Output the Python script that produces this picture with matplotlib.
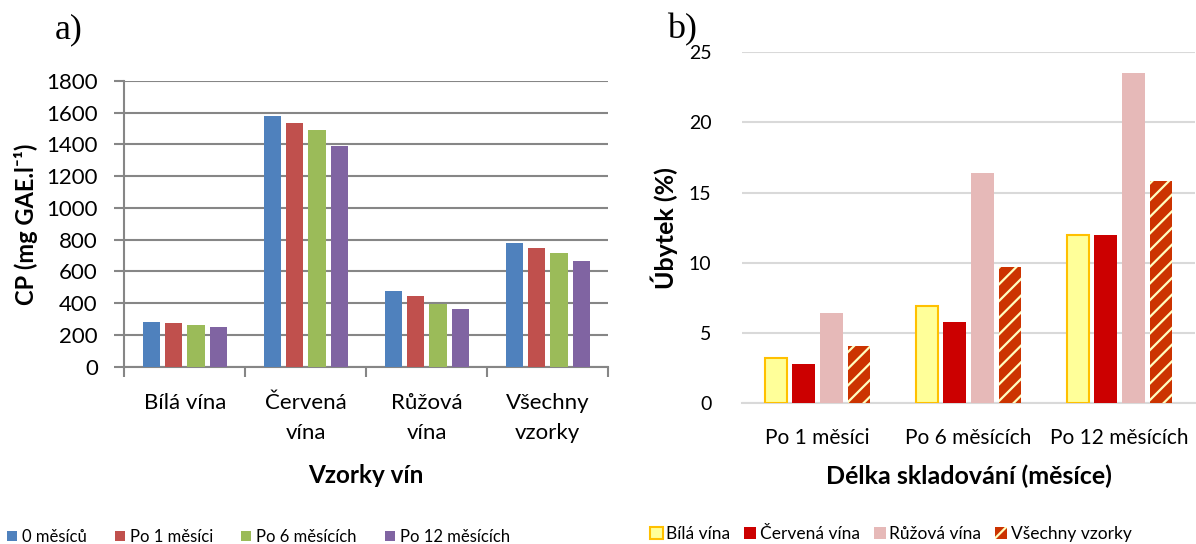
import matplotlib
matplotlib.use("Agg")
import matplotlib.pyplot as plt
import numpy as np

plt.rcParams['font.family'] = ['Lato', 'DejaVu Sans']
plt.rcParams['hatch.linewidth'] = 1.6

# --- data: a) total polyphenols (CP) ---
samples = ['Bílá vína', 'Červená\nvína', 'Růžová\nvína', 'Všechny\nvzorky']
storage = ['0 měsíců', 'Po 1 měsíci', 'Po 6 měsících', 'Po 12 měsících']
cp_0 = [283, 1580, 476, 780]
cp_1 = [273, 1538, 444, 751]
cp_6 = [262, 1490, 396, 717]
cp_12 = [250, 1393, 363, 667]
cp_colors = ['#4F81BD', '#C0504D', '#9BBB59', '#8064A2']

# --- data: b) loss in % ---
periods = ['Po 1 měsíci', 'Po 6 měsících', 'Po 12 měsících']
wine_types = ['Bílá vína', 'Červená vína', 'Růžová vína', 'Všechny vzorky']
loss_white = [3.2, 6.9, 12.0]
loss_red = [2.8, 5.8, 12.0]
loss_rose = [6.4, 16.4, 23.5]
loss_all = [4.1, 9.7, 15.8]

fig = plt.figure(figsize=(11.96, 5.44), dpi=100)

# ---------------- a) ----------------
ax1 = fig.add_axes([0.1039, 0.3259, 0.4047, 0.5252])
x = np.arange(len(samples))
pitch = 0.184
for i, vals in enumerate([cp_0, cp_1, cp_6, cp_12]):
    ax1.bar(x + (i - 1.5) * pitch, vals, width=0.143, color=cp_colors[i],
            label=storage[i], zorder=3)
ax1.set_xlim(-0.5, len(samples) - 0.5)
ax1.set_ylim(0, 1800)
ax1.set_yticks(np.arange(0, 1801, 200))
ax1.yaxis.grid(True, color='#868686', lw=1.5, zorder=0)
ax1.set_axisbelow(True)
ax1.set_xticks(np.arange(-0.5, len(samples)), [''] * (len(samples) + 1))
ax1.set_xticks(x, samples, minor=True)
ax1.tick_params(axis='x', which='major', length=7, width=1.5, color='#868686')
ax1.tick_params(axis='x', which='minor', length=0, pad=19, labelsize=16)
ax1.tick_params(axis='y', length=7, width=1.5, color='#868686', labelsize=16, pad=12)
for s in ['top', 'right']:
    ax1.spines[s].set_visible(False)
for s in ['left', 'bottom']:
    ax1.spines[s].set_color('#868686')
    ax1.spines[s].set_linewidth(1.5)
ax1.set_ylabel('CP (mg GAE.l⁻¹)', fontsize=17, fontweight='bold', labelpad=6)
ax1.set_xlabel('Vzorky vín', fontsize=17.5, fontweight='bold', labelpad=15)
fig.text(0.046, 0.945, 'a)', fontsize=26, family='Liberation Serif', va='center')

# ---------------- b) ----------------
ax2 = fig.add_axes([0.6204, 0.259, 0.3788, 0.6449])
xp = np.arange(len(periods))
pitch2 = 0.183
w2 = 0.15
ax2.bar(xp - 1.5 * pitch2, loss_white, width=w2, color='#FFFF99',
        edgecolor='#FFC000', lw=1.5, label=wine_types[0], zorder=3)
ax2.bar(xp - 0.5 * pitch2, loss_red, width=w2, color='#CC0000',
        label=wine_types[1], zorder=3)
ax2.bar(xp + 0.5 * pitch2, loss_rose, width=w2, color='#E6B9B8',
        label=wine_types[2], zorder=3)
ax2.bar(xp + 1.5 * pitch2, loss_all, width=w2, color='#CC3300',
        edgecolor='#FFFFC0', lw=0, hatch='//', label=wine_types[3], zorder=3)
ax2.set_xlim(-0.5, len(periods) - 0.5)
ax2.set_ylim(0, 25)
ax2.set_yticks(np.arange(0, 26, 5))
ax2.yaxis.grid(True, color='#D9D9D9', lw=1.5, zorder=0)
ax2.set_axisbelow(True)
ax2.set_xticks(xp, periods)
ax2.tick_params(axis='x', length=0, pad=18, labelsize=15)
ax2.tick_params(axis='y', length=0, labelsize=14, pad=22)
for s in ['top', 'right', 'left']:
    ax2.spines[s].set_visible(False)
ax2.spines['bottom'].set_color('#D9D9D9')
ax2.spines['bottom'].set_linewidth(1.5)
ax2.set_ylabel('Úbytek (%)', fontsize=18, fontweight='bold', labelpad=8)
ax2.set_xlabel('Délka skladování (měsíce)', fontsize=18, fontweight='bold', labelpad=12)
fig.text(0.558, 0.945, 'b)', fontsize=26, family='Liberation Serif', va='center')

# legends
h1, l1 = ax1.get_legend_handles_labels()
fig.legend(h1, l1, loc='center left', bbox_to_anchor=(0.0, 0.013), ncol=4,
           frameon=False, fontsize=12, handlelength=0.6, handleheight=0.6,
           handletextpad=0.3, columnspacing=1.7, borderaxespad=0)
h2, l2 = ax2.get_legend_handles_labels()
fig.legend(h2, l2, loc='center left', bbox_to_anchor=(0.538, 0.018), ncol=4,
           frameon=False, fontsize=12.5, handlelength=0.7, handleheight=0.7,
           handletextpad=0.2, columnspacing=0.8, borderaxespad=0)

# wider spacing between the two lines of the category labels
fig.canvas.draw()
for t in ax1.xaxis.get_minor_ticks():
    t.label1.set_linespacing(1.65)

fig.savefig('out.png', dpi=100)
